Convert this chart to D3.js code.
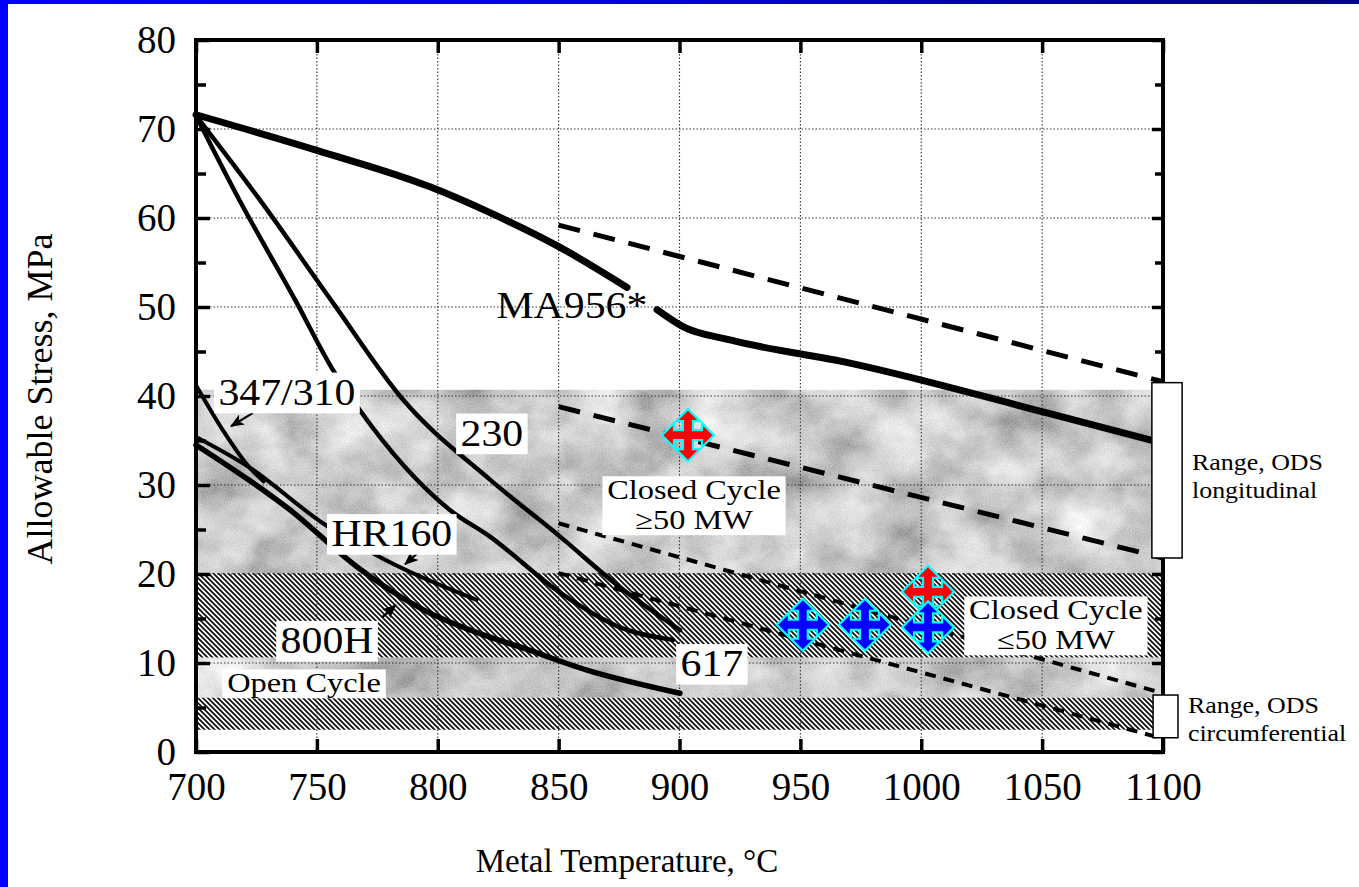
<!DOCTYPE html>
<html>
<head>
<meta charset="utf-8">
<script src="https://cdn.jsdelivr.net/npm/d3@7"></script>
<style>
html, body { margin: 0; padding: 0; background: #fff; }
svg { display: block; }
svg text { font-family: "Liberation Serif", "DejaVu Serif", serif !important; fill: #000; }
</style>
</head>
<body>
<svg id="chart" width="1359" height="887"></svg>
<script>
// ---- data ----
const tempTicks = [700, 750, 800, 850, 900, 950, 1000, 1050, 1100];
const stressTicks = [0, 10, 20, 30, 40, 50, 60, 70, 80];
const stressMinor = [5, 15, 25, 35, 45, 55, 65, 75];

// solid alloy curves [temperature, stress]
const ma956Early = [[700, 71.6], [750, 67.6], [796.8, 63.5], [821.6, 60.6], [850.6, 56.7], [878.3, 52.2]];
const ma956Late = [[890.7, 49.7], [901.4, 47.8], [920.9, 46.3], [970.5, 43.7], [1052, 38.1], [1097, 34.9]];
const alloy230 = [[700, 71.5], [726.5, 62], [755.8, 50.8], [785.6, 39.6], [821.6, 30.6], [850.6, 24.2], [875.4, 18.5], [900.2, 13.7]];
const alloy617 = [[700, 71.5], [718, 62], [741, 50.8], [756.7, 42.9], [767.8, 38.4], [805, 27.2], [821.6, 24.2], [850.6, 17.9], [875.4, 14.0], [897.3, 12.6]];
const ss347 = [[700, 41.2], [711, 36.2], [722, 32], [728, 30.4]];
const hr160 = [[700, 35.4], [722, 32], [752.5, 25.7], [772, 22.5], [816, 17.1]];
const alloy800H = [[700, 34.5], [738.9, 27.2], [766.6, 20.8], [793.9, 16.0], [821.6, 12.9], [834, 11.8], [861.7, 9.2], [900.2, 6.6]];

// dashed ODS lines
const odsUpper = [[850, 59.2], [1100, 41.6]];
const odsMid = [[850, 38.8], [1100, 21.8]];
const odsLow = [[850, 25.7], [1100, 6.6]];
const odsLowest = [[850, 20.1], [1100, 1.5]];

// design bands
const bandLow = [20.1, 10.6, 6.1, 2.5];
const bandHigh = [40.7, 20.1, 10.6, 6.1];
const bandFill = ['mottle', 'hatch', 'mottle', 'hatch'];

// ODS range boxes at the right edge
const rangeLow = [21.8, 1.6];
const rangeHigh = [41.5, 6.4];
const rangeT0 = [1095.4, 1095.9];
const rangeT1 = [1107.9, 1106.2];

// design point markers
const markerTemp = [903.5, 1002.8, 951, 976.7, 1002.8];
const markerStress = [35.6, 18.0, 14.3, 14.3, 14.0];
const markerColor = ['#ff0000', '#ff0000', '#0000ff', '#0000ff', '#0000ff'];

// labels: text lines, anchor temperature, baseline stress, font size, stretch, white box
const labelText = [['347/310'], ['230'], ['HR160'], ['800H'], ['617'], ['MA956*'],
  ['Closed Cycle', '\u226550 MW'], ['Closed Cycle', '\u226450 MW'], ['Open Cycle']];
const labelTemp = [737.6, 822.4, 781, 754.2, 913.4, 855.5, 906, 1055.7, 744.7];
const labelStress = [39.0, 34.4, 23.1, 11.1, 8.5, 48.8, 28.4, 14.9, 6.7];
const labelSize = [38, 38, 38, 38, 38, 38, 27, 27, 27];
const labelStretch = [1.1, 1.1, 1.1, 1.1, 1.1, 1.1, 1.2, 1.2, 1.2];
const labelBox = [true, true, true, true, true, false, true, true, true];

const sideText = [['Range, ODS', 'longitudinal'], ['Range, ODS', 'circumferential']];
const sideTemp = [1112, 1110.3];
const sideStress = [31.7, 4.4];

// pointer arrows [fromT, fromS, toT, toS]
const arrows = [[723.6, 38.1, 714.5, 36.6], [793.9, 22.9, 786.5, 21.1], [776.9, 15.1, 782.6, 16.5]];

// ---- drawing ----
const svg = d3.select('#chart');
const W = 1359, H = 887;
const SERIF = '"Liberation Serif", "DejaVu Serif", serif';

const x = d3.scaleLinear().domain([700, 1100]).range([196, 1163]);
const y = d3.scaleLinear().domain([0, 80]).range([752, 40]);

const defs = svg.append('defs');

const grad = defs.append('linearGradient').attr('id', 'topbar').attr('x1', 0).attr('x2', 1).attr('y1', 0).attr('y2', 0);
grad.append('stop').attr('offset', 0).attr('stop-color', '#0000ff');
grad.append('stop').attr('offset', 0.45).attr('stop-color', '#0000e0');
grad.append('stop').attr('offset', 1).attr('stop-color', '#000080');

const hatch = defs.append('pattern').attr('id', 'hatch')
  .attr('patternUnits', 'userSpaceOnUse').attr('width', 5).attr('height', 5);
hatch.append('rect').attr('width', 5).attr('height', 5).attr('fill', '#fff');
hatch.append('path').attr('d', 'M-1,-1 L6,6 M-1,4 L1,6 M4,-1 L6,1')
  .attr('stroke', '#111').attr('stroke-width', 1.8);

const mottle = defs.append('filter').attr('id', 'mottle')
  .attr('filterUnits', 'userSpaceOnUse')
  .attr('x', 180).attr('y', 360).attr('width', 1010).attr('height', 420);
mottle.append('feTurbulence').attr('type', 'fractalNoise')
  .attr('baseFrequency', '0.016 0.02').attr('numOctaves', 4).attr('seed', 7).attr('result', 'noise');
mottle.append('feColorMatrix').attr('in', 'noise').attr('type', 'matrix')
  .attr('values', '0.85 0 0 0 0.18  0.85 0 0 0 0.18  0.85 0 0 0 0.18  0 0 0 0 1').attr('result', 'gray');
mottle.append('feTurbulence').attr('type', 'fractalNoise')
  .attr('baseFrequency', '0.7').attr('numOctaves', 1).attr('seed', 3).attr('result', 'grain');
mottle.append('feColorMatrix').attr('in', 'grain').attr('type', 'matrix')
  .attr('values', '1 0 0 0 0  1 0 0 0 0  1 0 0 0 0  0 0 0 0 1').attr('result', 'grainGray');
mottle.append('feComposite').attr('in', 'gray').attr('in2', 'grainGray')
  .attr('operator', 'arithmetic').attr('k1', 0).attr('k2', 1).attr('k3', 0.28).attr('k4', -0.14).attr('result', 'mix');
mottle.append('feComposite').attr('in', 'mix').attr('in2', 'SourceGraphic').attr('operator', 'in');

defs.append('marker').attr('id', 'arrowhead')
  .attr('viewBox', '0 -5 12 10').attr('refX', 11).attr('refY', 0)
  .attr('markerUnits', 'userSpaceOnUse').attr('markerWidth', 14).attr('markerHeight', 12)
  .attr('orient', 'auto')
  .append('path').attr('d', 'M0,-5 L12,0 L0,5 L3,0 Z').attr('fill', '#000');

// background + slide border
svg.append('rect').attr('width', W).attr('height', H).attr('fill', '#fff');
svg.append('rect').attr('x', 0).attr('y', 0).attr('width', W).attr('height', 4).attr('fill', 'url(#topbar)');
svg.append('rect').attr('x', 0).attr('y', 0).attr('width', 8).attr('height', H).attr('fill', '#0000ff');

// bands
const bands = svg.append('g');
bandLow.forEach((lo, i) => {
  const r = bands.append('rect')
    .attr('x', x(700)).attr('width', x(1100) - x(700))
    .attr('y', y(bandHigh[i])).attr('height', y(lo) - y(bandHigh[i]));
  if (bandFill[i] === 'hatch') r.attr('fill', 'url(#hatch)');
  else r.attr('fill', '#999').attr('filter', 'url(#mottle)');
});

// dotted grid
const grid = svg.append('g').attr('stroke', '#333').attr('stroke-width', 1.1).attr('stroke-dasharray', '1.5,2');
grid.selectAll('.vg').data(tempTicks.slice(1, -1)).enter().append('line')
  .attr('x1', d => x(d)).attr('x2', d => x(d)).attr('y1', y(80)).attr('y2', y(0));
grid.selectAll('.hg').data(stressTicks.slice(1, -1)).enter().append('line')
  .attr('x1', x(700)).attr('x2', x(1100)).attr('y1', d => y(d)).attr('y2', d => y(d));

// curves
const line = d3.line().x(d => x(d[0])).y(d => y(d[1])).curve(d3.curveMonotoneX);
const curves = svg.append('g').attr('fill', 'none').attr('stroke', '#000')
  .attr('stroke-linecap', 'round').attr('stroke-linejoin', 'round');

[[odsUpper, 5, '22,14'], [odsMid, 5, '22,14'], [odsLow, 4, '11,8'], [odsLowest, 4, '11,8']].forEach(([data, w, dash]) => {
  curves.append('path').attr('d', line(data)).attr('stroke-width', w)
    .attr('stroke-dasharray', dash).attr('stroke-linecap', 'butt');
});

[[ma956Early, 7], [ma956Late, 7], [alloy230, 4.5], [alloy617, 4.5], [ss347, 4],
 [hr160, 4], [alloy800H, 5.5]].forEach(([data, w]) => {
  curves.append('path').attr('d', line(data)).attr('stroke-width', w);
});

// pointer arrows
svg.append('g').selectAll('line').data(arrows).enter().append('line')
  .attr('x1', d => x(d[0])).attr('y1', d => y(d[1]))
  .attr('x2', d => x(d[2])).attr('y2', d => y(d[3]))
  .attr('stroke', '#000').attr('stroke-width', 2.2).attr('marker-end', 'url(#arrowhead)');

// axes
const axes = svg.append('g');
function styleAxis(g, size) {
  g.attr('font-family', SERIF);
  g.select('.domain').remove();
  g.selectAll('.tick line').attr('stroke', '#000').attr('stroke-width', 3.5);
  g.selectAll('.tick text').attr('font-size', size).style('font-family', SERIF).attr('fill', '#000');
}
axes.append('g').attr('transform', `translate(0,${y(0)})`)
  .call(d3.axisBottom(x).tickValues(tempTicks).tickSizeInner(-13).tickSizeOuter(0).tickPadding(20).tickFormat(d3.format('d')))
  .call(g => styleAxis(g, 39));
axes.append('g').attr('transform', `translate(0,${y(80)})`)
  .call(d3.axisTop(x).tickValues(tempTicks).tickSizeInner(-13).tickSizeOuter(0).tickFormat(''))
  .call(g => styleAxis(g, 39));
axes.append('g').attr('transform', `translate(${x(700)},0)`)
  .call(d3.axisLeft(y).tickValues(stressTicks).tickSizeInner(-14).tickSizeOuter(0).tickPadding(20).tickFormat(d3.format('d')))
  .call(g => styleAxis(g, 39));
axes.append('g').attr('transform', `translate(${x(700)},0)`)
  .call(d3.axisLeft(y).tickValues(stressMinor).tickSizeInner(-10).tickSizeOuter(0).tickFormat(''))
  .call(g => styleAxis(g, 39));
axes.append('g').attr('transform', `translate(${x(1100)},0)`)
  .call(d3.axisRight(y).tickValues(stressTicks).tickSizeInner(-11).tickSizeOuter(0).tickFormat(''))
  .call(g => styleAxis(g, 39));
axes.append('g').attr('transform', `translate(${x(1100)},0)`)
  .call(d3.axisRight(y).tickValues(stressMinor).tickSizeInner(-8).tickSizeOuter(0).tickFormat(''))
  .call(g => styleAxis(g, 39));
axes.append('rect').attr('x', x(700)).attr('y', y(80))
  .attr('width', x(1100) - x(700)).attr('height', y(0) - y(80))
  .attr('fill', 'none').attr('stroke', '#000').attr('stroke-width', 4);

// ODS range boxes
svg.append('g').selectAll('rect').data(rangeLow).enter().append('rect')
  .attr('x', (d, i) => x(rangeT0[i])).attr('width', (d, i) => x(rangeT1[i]) - x(rangeT0[i]))
  .attr('y', (d, i) => y(rangeHigh[i])).attr('height', (d, i) => y(d) - y(rangeHigh[i]))
  .attr('fill', '#fff').attr('stroke', '#000').attr('stroke-width', 1.5);

// labels
const labels = svg.append('g');
labelText.forEach((lines, i) => {
  const fs = labelSize[i];
  const g = labels.append('g')
    .attr('transform', `translate(${x(labelTemp[i])},${y(labelStress[i])}) scale(${labelStretch[i]},1)`);
  const lh = lines.length > 1 ? 30 : fs;
  const t = g.append('text').attr('text-anchor', 'middle').attr('font-size', fs);
  lines.forEach((s, j) => t.append('tspan').attr('x', 0).attr('y', j * lh).text(s));
  if (labelBox[i]) {
    const b = t.node().getBBox();
    g.insert('rect', 'text')
      .attr('x', b.x - 4).attr('width', b.width + 8)
      .attr('y', -fs * 0.85).attr('height', fs * 0.85 + (lines.length - 1) * lh + fs * 0.22)
      .attr('fill', '#fff');
  }
});

// side notes, one text element per line
sideText.forEach((lines, i) => {
  lines.forEach((s, j) => {
    labels.append('text').attr('font-size', 24)
      .attr('transform', `translate(${x(sideTemp[i])},${y(sideStress[i]) + j * 28}) scale(1.08,1)`)
      .text(s);
  });
});

// design point markers: four-way arrows in a cyan-edged diamond
const R = 26, a = 12, s = 5;
const crossPath = [
  [0, -R], [a, -R + a], [s, -R + a], [s, -s], [R - a, -s], [R - a, -a], [R, 0],
  [R - a, a], [R - a, s], [s, s], [s, R - a], [a, R - a], [0, R],
  [-a, R - a], [-s, R - a], [-s, s], [-(R - a), s], [-(R - a), a], [-R, 0],
  [-(R - a), -a], [-(R - a), -s], [-s, -s], [-s, -R + a], [-a, -R + a]
].map(p => p.join(',')).join(' L');
svg.append('g').selectAll('path').data(markerTemp).enter().append('path')
  .attr('d', 'M' + crossPath + ' Z')
  .attr('transform', (d, i) => `translate(${x(d)},${y(markerStress[i])})`)
  .attr('fill', (d, i) => markerColor[i])
  .attr('stroke', '#00ffff').attr('stroke-width', 2.2).attr('stroke-linejoin', 'miter');

// axis titles
svg.append('text').attr('x', 627).attr('y', 872).attr('text-anchor', 'middle')
  .attr('font-size', 33).text('Metal Temperature, \u00B0C');
svg.append('text').attr('transform', 'translate(52,399) rotate(-90)').attr('text-anchor', 'middle')
  .attr('font-size', 36).text('Allowable Stress, MPa');
</script>
</body>
</html>
